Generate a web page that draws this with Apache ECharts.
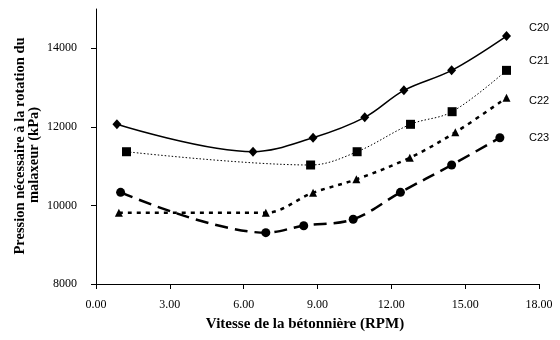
<!DOCTYPE html>
<html>
<head>
<meta charset="utf-8">
<script src="https://cdn.jsdelivr.net/npm/echarts@6/dist/echarts.min.js"></script>
<style>
  html, body { margin: 0; padding: 0; background: #fff; }
  #chart { width: 560px; height: 340px; }
</style>
</head>
<body>
<div id="chart"></div>
<script>
// Mixer rotation pressure vs. drum speed, four mixes
const seriesNames = ['C20', 'C21', 'C22', 'C23'];

const rpmC20 = [0.85, 6.38, 8.82, 10.92, 12.51, 14.45, 16.68];
const kpaC20 = [12065, 11367, 11724, 12242, 12929, 13438, 14312];

const rpmC21 = [1.24, 8.72, 10.61, 12.78, 14.47, 16.68];
const kpaC21 = [11367, 11029, 11367, 12065, 12386, 13438];

const rpmC22 = [0.93, 6.90, 8.82, 10.58, 12.75, 14.60, 16.68];
const kpaC22 = [9815, 9815, 10324, 10664, 11215, 11860, 12742];

const rpmC23 = [1.00, 6.90, 8.44, 10.45, 12.37, 14.45, 16.41];
const kpaC23 = [10333, 9306, 9484, 9647, 10333, 11029, 11724];

const yTicks = [8000, 10000, 12000, 14000];

const pairs = (xs, ys) => xs.map((x, i) => [x, ys[i]]);

const serif = '"Liberation Serif", "Times New Roman", serif';
const sans = '"Liberation Sans", Arial, sans-serif';

const chart = echarts.init(document.getElementById('chart'), null, { renderer: 'canvas' });

function lineSeries(name, data, symbol, symbolSize, lineStyle) {
  return {
    name: name,
    type: 'line',
    data: data,
    smooth: 0.35,
    symbol: symbol,
    symbolSize: symbolSize,
    itemStyle: { color: '#000' },
    lineStyle: Object.assign({ color: '#000' }, lineStyle),
    animation: false,
    z: 3
  };
}

function seriesTag(text, top) {
  return {
    type: 'text', left: 529, top: top,
    style: { text: text, font: '11px ' + sans, fill: '#000' }
  };
}

chart.setOption({
  animation: false,
  backgroundColor: '#fff',
  grid: { left: 96, right: 21, top: 9, bottom: 56 },
  xAxis: {
    type: 'value',
    min: 0,
    max: 18,
    interval: 3,
    axisLine: { lineStyle: { color: '#000', width: 1 } },
    axisTick: { show: true, length: 5, lineStyle: { color: '#000' } },
    axisLabel: {
      margin: 15,
      color: '#000',
      fontFamily: serif,
      fontSize: 12,
      formatter: v => v.toFixed(2)
    },
    splitLine: { show: false }
  },
  yAxis: {
    type: 'value',
    min: 8000,
    max: 15000,
    interval: 2000,
    axisLine: { show: true, lineStyle: { color: '#000', width: 1 } },
    axisTick: { show: true, length: 5, customValues: yTicks, lineStyle: { color: '#000' } },
    axisLabel: {
      margin: 19,
      color: '#000',
      fontFamily: serif,
      fontSize: 12,
      customValues: yTicks,
      formatter: v => String(v)
    },
    splitLine: { show: false }
  },
  series: [
    lineSeries('C20', pairs(rpmC20, kpaC20), 'diamond', [9, 10], { width: 1.5, type: 'solid' }),
    lineSeries('C21', pairs(rpmC21, kpaC21), 'rect', 9, { width: 1, type: [1.5, 2] }),
    lineSeries('C22', pairs(rpmC22, kpaC22), 'triangle', 8, { width: 2.5, type: [4, 5] }),
    lineSeries('C23', pairs(rpmC23, kpaC23), 'circle', 9, { width: 2.5, type: [13, 7] })
  ],
  graphic: [
    seriesTag(seriesNames[0], 22),
    seriesTag(seriesNames[1], 55),
    seriesTag(seriesNames[2], 95),
    seriesTag(seriesNames[3], 132),
    {
      type: 'text',
      x: 305, y: 324,
      style: {
        text: 'Vitesse de la bétonnière (RPM)',
        font: 'bold 15px ' + serif,
        fill: '#000',
        align: 'center',
        verticalAlign: 'middle'
      }
    },
    {
      type: 'text',
      x: 20, y: 146,
      rotation: Math.PI / 2,
      style: {
        text: 'Pression nécessaire à la rotation du',
        font: 'bold 14.5px ' + serif,
        fill: '#000',
        align: 'center',
        verticalAlign: 'middle'
      }
    },
    {
      type: 'text',
      x: 34, y: 155,
      rotation: Math.PI / 2,
      style: {
        text: 'malaxeur (kPa)',
        font: 'bold 14.5px ' + serif,
        fill: '#000',
        align: 'center',
        verticalAlign: 'middle'
      }
    }
  ]
});
</script>
</body>
</html>
